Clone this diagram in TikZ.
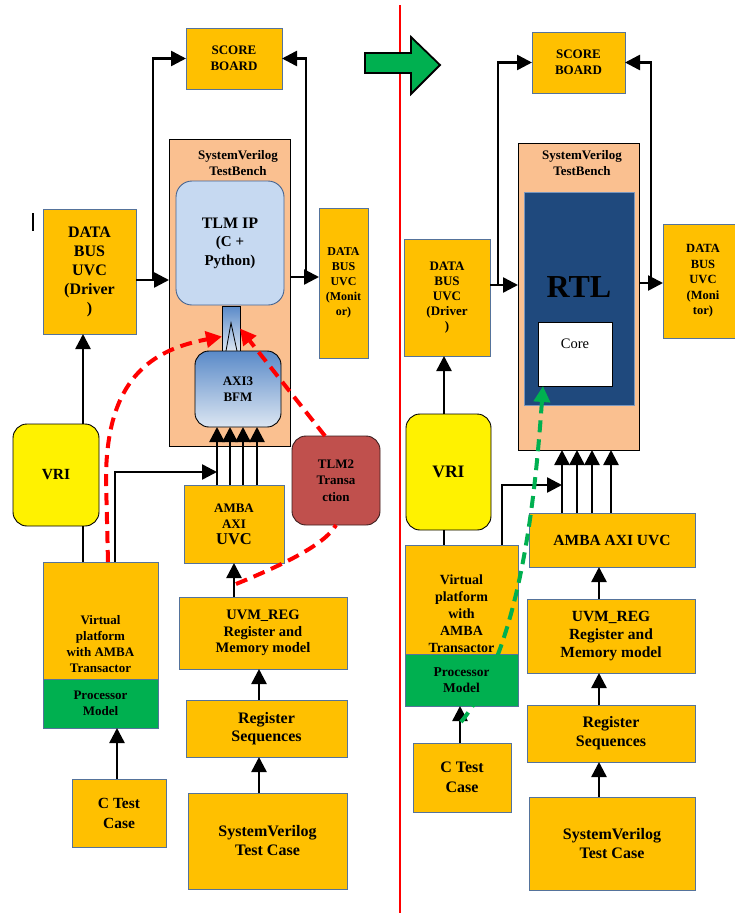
\documentclass[tikz,border=0pt]{standalone}
\usepackage{fontspec}
\setmainfont{Liberation Serif}
\usetikzlibrary{arrows.meta,calc}
\definecolor{amber}{HTML}{FFC000}
\definecolor{boxline}{RGB}{85,115,155}
\definecolor{peach}{HTML}{FAC090}
\definecolor{tlmfill}{HTML}{C6D9F1}
\definecolor{tlmline}{RGB}{70,100,145}
\definecolor{rtlblue}{HTML}{1F497D}
\definecolor{rtlline}{RGB}{120,150,190}
\definecolor{tlmred}{HTML}{C0504D}
\definecolor{tlmredline}{RGB}{60,30,30}
\definecolor{pgreen}{HTML}{00B050}
\definecolor{bfmtop}{HTML}{5A8AC8}
\definecolor{bfmbot}{HTML}{DCE6F2}
\definecolor{myred}{RGB}{255,0,0}
\newcommand\fsz[2]{\fontsize{#1}{#2}\selectfont}
\tikzset{
  obox/.style={draw=boxline, fill=amber, line width=0.9pt, inner sep=0pt, outer sep=0pt, align=center, anchor=north west},
  gbox/.style={obox, fill=pgreen},
  tbox/.style={draw=black, fill=peach, line width=0.9pt, inner sep=0pt, outer sep=0pt, anchor=north west},
  rbox/.style={line width=0.9pt, inner sep=0pt, outer sep=0pt, align=center, anchor=north west, rounded corners=14pt},
  txt/.style={inner sep=0pt, align=center},
  arr/.style={line width=2.5pt, -{Triangle[length=15pt,width=15pt]}},
  ln/.style={line width=2.5pt},
  rdash/.style={color=myred, line width=4pt, dash pattern=on 12pt off 7pt, -{Triangle[length=16pt,width=16pt]}},
  gdash/.style={color=pgreen, line width=4pt, dash pattern=on 12pt off 7pt, -{Triangle[length=16pt,width=16pt]}},
}
\begin{document}
\begin{tikzpicture}[x=1pt,y=-1pt]
\useasboundingbox (0,0) rectangle (735,913);
\clip (0,0) rectangle (735,913);
\fill[white] (0,0) rectangle (735,913);
% divider and transition arrow
\draw[myred, line width=1.3pt] (400,5) -- (400,913);
\draw[fill=pgreen, line width=1.8pt, line join=miter] (365,53) -- (411,53) -- (411,37) -- (440,65) -- (411,94) -- (411,73) -- (365,73) -- cycle;
\draw[line width=1.5pt] (33,213) -- (33,231);

% ================= LEFT =================
\node[obox, minimum width=96pt, minimum height=61pt, font=\bfseries\fsz{13}{16}] (sbL) at (186,28) {SCORE\\BOARD};
\node[tbox, minimum width=121pt, minimum height=307pt] (tbL) at (169,139) {};
\node[txt, font=\bfseries\fsz{13}{16}] (tbLt) at (238,163) {SystemVerilog\\TestBench};
\node[rbox, draw=tlmline, fill=tlmfill, rounded corners=16pt, minimum width=108pt, minimum height=124pt, font=\bfseries\fsz{15}{18.5}] (tlm) at (176,181) {{\fsz{16}{18.5}TLM IP}\\(C +\\Python)};
\node[draw=black, line width=0.7pt, top color=bfmtop, bottom color=bfmbot, anchor=north west, minimum width=18pt, minimum height=45pt, inner sep=0pt, outer sep=0pt] (conn) at (222,306) {};
\draw[line width=0.8pt] ($(conn.south)+(-5,0)$) -- ($(conn.south)+(0,-28)$) -- ($(conn.south)+(6,0)$);
\node[rbox, draw=black, top color=bfmtop, bottom color=bfmbot, minimum width=86pt, minimum height=76pt, font=\bfseries\fsz{13}{16}, text=black] (bfm) at (195,351) {AXI3\\BFM};

\node[obox, minimum width=93pt, minimum height=125pt, font=\bfseries\fsz{16}{19}] (drvL) at (43,209) {DATA\\BUS\\UVC\\(Driver\\)};
\node[obox, minimum width=49pt, minimum height=150pt, font=\bfseries\fsz{12}{15}] (monL) at (319,208) {DATA\\BUS\\UVC\\(Monit\\or)};
\node[rbox, draw=black, fill=yellow, minimum width=86pt, minimum height=102pt, font=\bfseries\fsz{15.5}{18}] (vriL) at (13,424) {VRI};
\node[obox, minimum width=100pt, minimum height=78pt, font=\bfseries\fsz{13}{16}] (amL) at (184,485) {AMBA\\AXI\\{\fsz{16.5}{19}UVC}};
\node[obox, minimum width=115pt, minimum height=117pt] (vpL) at (43,562) {};
\node[txt, font=\bfseries\fsz{13}{16}] (vpLt) at (100.5,644) {Virtual\\platform\\with AMBA\\Transactor};
\node[gbox, minimum width=115pt, minimum height=49pt, font=\bfseries\fsz{13}{16}] (pmL) at (43,679) {Processor\\Model};
\node[obox, minimum width=94pt, minimum height=68pt, font=\bfseries\fsz{15.5}{20}] (ctL) at (72,779) {C Test\\Case};
\node[obox, minimum width=168pt, minimum height=72pt, font=\bfseries\fsz{14.5}{16.5}] (uvmL) at (179,597) {UVM\_REG\\Register and\\Memory model};
\node[obox, minimum width=161pt, minimum height=57pt, font=\bfseries\fsz{16}{18.5}] (rsL) at (186,700) {Register\\Sequences};
\node[obox, minimum width=159pt, minimum height=96pt, font=\bfseries\fsz{16}{19}] (svL) at (188,793) {SystemVerilog\\Test Case};

% left connectors
\coordinate (jL) at (153,280);
\coordinate (jR) at (306,277);
\draw[arr] (drvL.east |- jL) -- (tbL.west |- jL);
\draw[arr] (jL) |- (sbL.west);
\draw[arr] (tbL.east |- jR) -- (monL.west |- jR);
\draw[arr] (jR) |- (sbL.east);
\draw[arr] (vriL.north -| 83,0) -- (drvL.south -| 83,0);
\draw[ln] (vpL.north -| 83,0) -- (vriL.south -| 83,0);
\draw[arr] (vpL.north -| 115,0) |- (217,472);
\foreach \xx in {217,230,243,257} \draw[arr] (amL.north -| \xx,0) -- (bfm.south -| \xx,0);
\draw[arr] (uvmL.north -| 234,0) -- (amL.south -| 234,0);
\draw[arr] (rsL.north -| 259,0) -- (uvmL.south -| 259,0);
\draw[arr] (svL.north -| 259,0) -- (rsL.south -| 259,0);
\draw[arr] (ctL.north -| 117,0) -- (pmL.south -| 117,0);

\node[rbox, draw=tlmredline, fill=tlmred, minimum width=88pt, minimum height=89pt, font=\bfseries\fsz{13}{16.5}] (tlm2) at (292,436) {TLM2\\Transa\\ction};

% red dashed transactions
\coordinate (rs) at (236,584);
\draw[rdash, -] (rs) .. controls (280,566) and (325,545) .. (tlm2.south);
\draw[rdash] ([xshift=-11pt]tlm2.north) -- (conn.east);
\draw[rdash] (vpL.north -| 108,0) -- (106,480) .. controls (106,380) and (150,350) .. ([yshift=-8pt]conn.west);

% ================= RIGHT =================
\node[obox, minimum width=93pt, minimum height=61pt, font=\bfseries\fsz{13}{16}] (sbR) at (532,32) {SCORE\\BOARD};
\node[tbox, minimum width=121pt, minimum height=307pt] (tbR) at (518,143) {};
\node[txt, font=\bfseries\fsz{13}{16}] (tbRt) at (582,163) {SystemVerilog\\TestBench};
\node[draw=rtlline, fill=rtlblue, line width=1pt, anchor=north west, minimum width=110pt, minimum height=213pt, inner sep=0pt, outer sep=0pt] (rtl) at (524,192) {};
\node[txt, font=\bfseries\fsz{32}{32}] (rtlt) at (579,287) {RTL};
\node[draw=black, fill=white, line width=1pt, anchor=north west, minimum width=74pt, minimum height=64pt, inner sep=0pt, outer sep=0pt] (core) at (538,322) {};
\node[txt, font=\fsz{14.5}{16}] (coret) at (575,344) {Core};

\node[obox, minimum width=86pt, minimum height=117pt, font=\bfseries\fsz{13}{15}] (drvR) at (404,239) {DATA\\BUS\\UVC\\(Driver\\)};
\node[obox, minimum width=80pt, minimum height=114pt, font=\bfseries\fsz{12.5}{15.5}] (monR) at (663,224) {DATA\\BUS\\UVC\\(Moni\\tor)};
\node[rbox, draw=black, fill=yellow, minimum width=85pt, minimum height=116pt, font=\bfseries\fsz{17.5}{20}] (vriR) at (406,414) {VRI};
\node[obox, minimum width=113pt, minimum height=109pt] (vpR) at (405,545) {};
\node[txt, font=\bfseries\fsz{14}{17}] (vpRt) at (461.5,614) {Virtual\\platform\\with\\AMBA\\Transactor};
\node[gbox, minimum width=113pt, minimum height=52pt, font=\bfseries\fsz{13.5}{16}] (pmR) at (405,654) {Processor\\Model};
\node[obox, minimum width=98pt, minimum height=69pt, font=\bfseries\fsz{16}{20}] (ctR) at (413,743) {C Test\\Case};
\node[obox, minimum width=166pt, minimum height=54pt, font=\bfseries\fsz{15.5}{18}] (amR) at (529,513) {AMBA AXI UVC};
\node[obox, minimum width=168pt, minimum height=74pt, font=\bfseries\fsz{15.5}{18}] (uvmR) at (527,599) {UVM\_REG\\Register and\\Memory model};
\node[obox, minimum width=168pt, minimum height=57pt, font=\bfseries\fsz{16}{19}] (rsR) at (527,705) {Register\\Sequences};
\node[obox, minimum width=166pt, minimum height=93pt, font=\bfseries\fsz{16}{19}] (svR) at (529,797) {SystemVerilog\\Test Case};

% right connectors
\coordinate (jL2) at (498,285);
\coordinate (jR2) at (651,283);
\draw[arr] (drvR.east |- jL2) -- (tbR.west |- jL2);
\draw[arr] (jL2) |- (sbR.west);
\draw[arr] (tbR.east |- jR2) -- (monR.west |- jR2);
\draw[arr] (jR2) |- (sbR.east);
\draw[arr] (vriR.north -| 444,0) -- (drvR.south -| 444,0);
\draw[ln] (vpR.north -| 444,0) -- (vriR.south -| 444,0);
\draw[arr] (vpR.north -| 502,0) |- (562,485);
\foreach \xx in {562,577,592,611} \draw[arr] (amR.north -| \xx,0) -- (tbR.south -| \xx,0);
\draw[arr] (uvmR.north -| 599,0) -- (amR.south -| 599,0);
\draw[arr] (rsR.north -| 599,0) -- (uvmR.south -| 599,0);
\draw[arr] (svR.north -| 599,0) -- (rsR.south -| 599,0);
\draw[arr] (ctR.north -| 460,0) -- (pmR.south -| 460,0);

% green dashed
\coordinate (gs) at (461,722);
\draw[gdash] (gs) .. controls (520,650) and (535,500) .. (core.south -| 543,0);
\end{tikzpicture}
\end{document}
